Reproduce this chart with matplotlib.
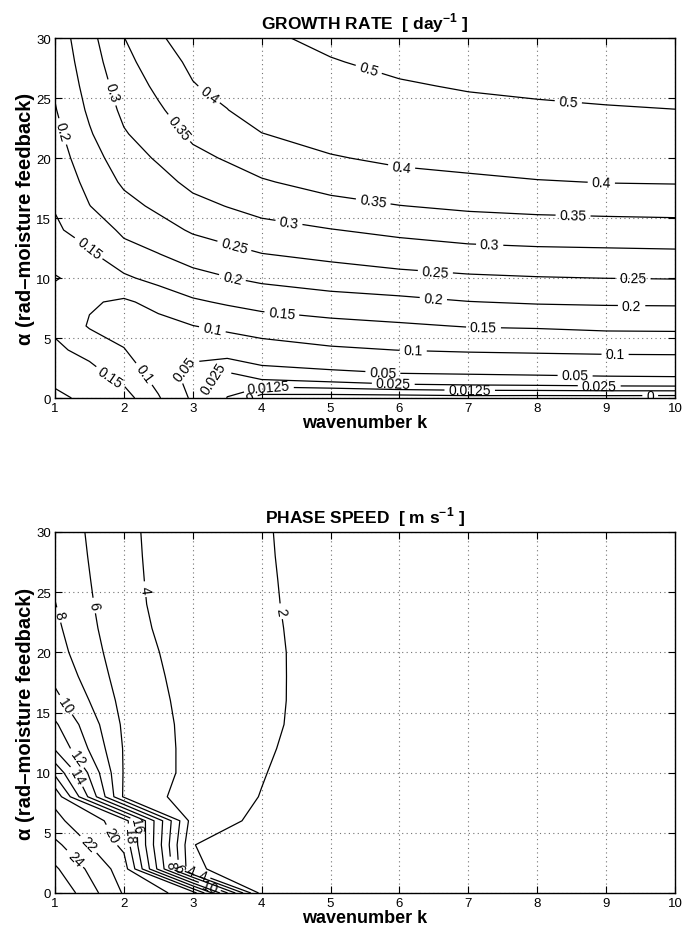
import numpy as np
import matplotlib.pyplot as plt

plt.rcParams['font.family'] = ['Liberation Sans', 'DejaVu Sans']
plt.rcParams['mathtext.fontset'] = 'custom'
plt.rcParams['mathtext.rm'] = 'Liberation Sans:bold'
plt.rcParams['mathtext.bf'] = 'Liberation Sans:bold'

# ---- data ----
alpha = [0, 2, 4, 6, 8, 10, 12, 14, 16, 18, 20, 22, 24, 26, 28, 30]

# growth rate [1/day], rows = alpha, cols = k_growth
k_growth = [1, 1.5, 2, 2.5, 3, 3.5, 4, 5, 6, 7, 8, 9, 10]
growth_rate = [
    [0.21, 0.189, 0.171, 0.104, 0.042, 0.012, -0.006, -0.007, -0.007, -0.0055, -0.006, -0.006, -0.0065],
    [0.185, 0.168, 0.13, 0.08, 0.03, 0.022, 0.0343, 0.0405, 0.0485, 0.0505, 0.0528, 0.0555, 0.057],
    [0.16, 0.1337, 0.1015, 0.075, 0.07, 0.065, 0.0782, 0.0932, 0.1006, 0.1048, 0.1073, 0.1098, 0.1105],
    [0.14, 0.0956, 0.087, 0.084, 0.099, 0.112, 0.1235, 0.135, 0.1436, 0.1523, 0.155, 0.1605, 0.1615],
    [0.13, 0.105, 0.0926, 0.115, 0.143, 0.156, 0.1674, 0.1805, 0.1878, 0.1988, 0.2043, 0.2065, 0.2074],
    [0.095, 0.128, 0.142, 0.166, 0.184, 0.198, 0.21, 0.224, 0.2354, 0.2433, 0.2478, 0.2505, 0.252],
    [0.132, 0.143, 0.183, 0.199, 0.2214, 0.2358, 0.249, 0.2625, 0.275, 0.284, 0.288, 0.29, 0.292],
    [0.143, 0.171, 0.209, 0.231, 0.2559, 0.2698, 0.2845, 0.2982, 0.3115, 0.322, 0.327, 0.329, 0.331],
    [0.153, 0.199, 0.2346, 0.2595, 0.2853, 0.3014, 0.316, 0.3358, 0.349, 0.358, 0.363, 0.366, 0.368],
    [0.165, 0.214, 0.2577, 0.283, 0.3125, 0.3284, 0.3456, 0.3676, 0.381, 0.389, 0.397, 0.4015, 0.403],
    [0.176, 0.229, 0.2769, 0.3057, 0.3375, 0.3545, 0.3724, 0.3958, 0.4108, 0.419, 0.427, 0.432, 0.4355],
    [0.186, 0.245, 0.296, 0.3245, 0.3594, 0.3773, 0.3987, 0.421, 0.4378, 0.4485, 0.457, 0.463, 0.468],
    [0.197, 0.258, 0.31, 0.3434, 0.3783, 0.399, 0.424, 0.4457, 0.4649, 0.478, 0.487, 0.494, 0.499],
    [0.206, 0.268, 0.322, 0.36, 0.3972, 0.415, 0.447, 0.4704, 0.4919, 0.507, 0.516, 0.522, 0.528],
    [0.214, 0.277, 0.335, 0.377, 0.41, 0.43, 0.468, 0.495, 0.519, 0.534, 0.543, 0.55, 0.555],
    [0.221, 0.285, 0.349, 0.394, 0.422, 0.445, 0.486, 0.519, 0.545, 0.56, 0.57, 0.577, 0.58],
]
growth_levels = [0, 0.0125, 0.025, 0.05, 0.1, 0.15, 0.2, 0.25, 0.3, 0.35, 0.4, 0.5]

# phase speed [m/s], rows = alpha, cols = k_phase
k_phase = [1, 2, 3, 4, 5, 6, 7, 8, 9, 10]
phase_speed = [
    [27.8, 21.8, 19.0, 1.2, 1.0, 0.85, 0.75, 0.68, 0.62, 0.57],
    [26.3, 21.0, 2.15, 1.4, 1.05, 0.9, 0.8, 0.72, 0.66, 0.61],
    [24.5, 19.5, 2.02, 1.5, 1.1, 0.95, 0.85, 0.76, 0.7, 0.64],
    [22.5, 19.0, 3.0, 1.6, 1.15, 1.0, 0.88, 0.79, 0.72, 0.66],
    [21.5, 5.7, 3.0, 1.95, 1.05, 1.0, 0.9, 0.81, 0.74, 0.68],
    [17.5, 5.85, 3.4, 2.08, 1.1, 1.0, 0.92, 0.83, 0.76, 0.7],
    [13.8, 5.85, 3.4, 2.18, 1.35, 1.15, 1.0, 0.9, 0.82, 0.75],
    [12.3, 5.65, 3.4, 2.24, 1.5, 1.25, 1.08, 0.96, 0.87, 0.8],
    [10.6, 5.35, 3.35, 2.25, 1.55, 1.3, 1.12, 1.0, 0.9, 0.82],
    [9.5, 5.05, 3.3, 2.25, 1.556, 1.32, 1.14, 1.01, 0.91, 0.83],
    [8.8, 4.8, 3.25, 2.25, 1.55, 1.32, 1.14, 1.01, 0.91, 0.83],
    [8.4, 4.55, 3.2, 2.22, 1.53, 1.3, 1.13, 1.0, 0.9, 0.82],
    [8.05, 4.42, 3.15, 2.18, 1.51, 1.3, 1.12, 0.99, 0.89, 0.81],
    [7.75, 4.37, 3.12, 2.15, 1.51, 1.28, 1.11, 0.98, 0.88, 0.8],
    [7.5, 4.33, 3.1, 2.12, 1.51, 1.27, 1.1, 0.97, 0.88, 0.8],
    [7.3, 4.3, 3.08, 2.1, 1.51, 1.26, 1.1, 0.97, 0.87, 0.79],
]
phase_levels = [2, 4, 6, 8, 10, 12, 14, 16, 18, 20, 22, 24, 26]

# where the inline labels sit (k, alpha)
growth_label_pos = [(5.55, 27.3), (8.45, 24.6), (3.21, 25.1), (6.03, 19.2), (8.93, 17.9),
                    (2.78, 22.4), (5.62, 16.4), (8.52, 15.1), (1.79, 25.4), (4.39, 14.4),
                    (7.31, 12.8), (1.1, 22.2), (3.57, 9.9), (6.49, 8.1), (9.37, 7.7),
                    (3.6, 12.6), (6.52, 10.4), (9.39, 9.9), (1.48, 12.4), (4.29, 6.9),
                    (7.22, 5.8), (1.82, 1.9), (3.28, 5.6), (6.2, 4.0), (9.13, 3.55),
                    (2.27, 1.9), (2.85, 2.6), (5.76, 2.2), (8.55, 1.8), (3.09, 1.75),
                    (5.91, 1.1), (8.9, 0.86), (4.1, 0.9), (7.02, 0.55), (3.8, 0.3),
                    (9.64, 0.2)]
phase_label_pos = [(1.05, 23.1), (1.58, 23.9), (2.40, 25.3), (4.27, 23.4), (1.12, 15.5),
                   (1.27, 11.0), (1.29, 9.6), (2.14, 5.6), (2.06, 4.8), (1.82, 4.8),
                   (1.48, 4.0), (1.29, 2.85), (2.64, 2.35), (2.77, 2.1), (3.0, 2.2),
                   (3.15, 1.5), (3.25, 0.6)]


def fmt(v):
    return '%g' % v


def style_axes(ax, title):
    ax.set_xlim(1, 10)
    ax.set_ylim(0, 30)
    ax.set_xticks(range(1, 11))
    ax.set_yticks(range(0, 31, 5))
    ax.grid(True, color='0.45', linestyle=(0, (1, 3)), linewidth=0.8)
    ax.tick_params(direction='in', top=True, right=True, length=5, width=0.8,
                   labelsize=9.5, pad=3)
    for s in ax.spines.values():
        s.set_linewidth(1.0)
    ax.set_xlabel('wavenumber k', fontweight='bold', fontsize=13, labelpad=0)
    ax.set_ylabel('α (rad–moisture feedback)', fontweight='bold', fontsize=14.5, labelpad=1)
    ax.set_title(title, fontweight='bold', fontsize=12.5, pad=7)


fig = plt.figure(figsize=(6.83, 9.37), dpi=100)
ax1 = fig.add_axes([55 / 683, 1 - 399 / 937, 620 / 683, 360 / 937])
ax2 = fig.add_axes([55 / 683, 1 - 894 / 937, 620 / 683, 361 / 937])

style_axes(ax1, r'GROWTH RATE  [ day$^{-1}$ ]')
cs1 = ax1.contour(k_growth, alpha, np.array(growth_rate), levels=growth_levels,
                  colors='k', linewidths=0.9)
ax1.clabel(cs1, fmt=fmt, fontsize=10, inline=True, inline_spacing=4,
           manual=growth_label_pos)

style_axes(ax2, r'PHASE SPEED  [ m s$^{-1}$ ]')
cs2 = ax2.contour(k_phase, alpha, np.array(phase_speed), levels=phase_levels,
                  colors='k', linewidths=0.9)
ax2.clabel(cs2, fmt=fmt, fontsize=10, inline=True, inline_spacing=4,
           manual=phase_label_pos)

fig.savefig('out.png', dpi=100)
